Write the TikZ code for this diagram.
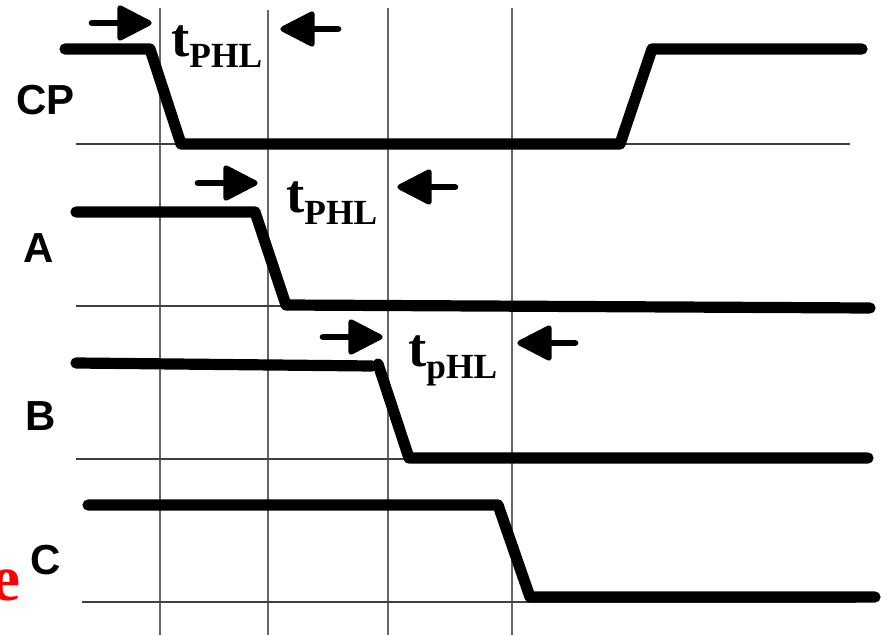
\documentclass[tikz,border=0pt]{standalone}
\usepackage{fontspec}
\setmainfont{Liberation Serif}
\setsansfont{Liberation Sans}
\newcommand{\tdelay}[1]{\bfseries\fontsize{41}{41}\selectfont t\fontsize{26.5}{26.5}\selectfont\raisebox{-9pt}{#1}}
\tikzset{
  wave/.style={line width=8.4pt,line cap=round,line join=round},
  grid line/.style={line width=0.9pt,black!60},
  base line/.style={line width=0.8pt,black!75},
  sig/.style={font=\sffamily\bfseries\fontsize{31.5}{31.5}\selectfont,anchor=base west,inner sep=0pt},
  delay/.style={anchor=base west,inner sep=0pt},
  stem/.style={line width=5pt,line cap=round},
  head/.style={fill=black,draw=black,line width=4pt,line join=round}
}
\begin{document}
\begin{tikzpicture}[x=0.75pt,y=-0.75pt]
    \useasboundingbox (0,0) rectangle (881,635);

    % Lineas verticales
    \foreach \x/\ytop in {160/8,268/10,388/8,512/8}
        \draw[grid line] (\x,\ytop) -- (\x,635);

    % Lineas de base
    \draw[base line] (76,144) -- (850,144);
    \draw[base line] (76,306) -- (870,306);
    \draw[base line] (76,459) -- (870,459);
    \draw[base line] (82,602) -- (856,602);

    % Senales
    \draw[wave] (65,49) -- (150,49) -- (181,144) -- (620,144) -- (652,49) -- (862,49);
    \draw[wave] (76,212) -- (255,212) -- (286,305) -- (870,308);
    \draw[wave] (76,363) -- (372,366);
    \draw[wave] (378,364) -- (409,458) -- (868,458);
    \draw[wave] (88,505) -- (498,505) -- (530,597) -- (875,597);

    % Flechas hacia la derecha
    \foreach \x/\y in {92/23,198/183,323/337} {
        \draw[stem] (\x,\y) -- ++(30,0);
        \draw[head] (\x+28,\y-15) -- ++(0,30) -- ++(29,-15) -- cycle;
    }
    % Flechas hacia la izquierda
    \foreach \x/\y in {338/29,455/187,575/343} {
        \draw[stem] (\x,\y) -- ++(-30,0);
        \draw[head] (\x-26,\y-15) -- ++(0,30) -- ++(-29,-15) -- cycle;
    }

    % Etiquetas
    \node[sig] (cp) at (16,114) {CP};
    \node[sig] (a) at (23,262) {A};
    \node[sig] (b) at (25,430) {B};
    \node[sig] (c) at (30,574) {C};
    \node[delay] (t1) at (171,56) {\tdelay{PHL}};
    \node[delay] (t2) at (286,212) {\tdelay{PHL}};
    \node[delay] (t3) at (408,366) {\tdelay{pHL}};
    \node[anchor=base west,inner sep=0pt,text=red,font=\bfseries\fontsize{49}{49}\selectfont] (e) at (-9,600) {e};
\end{tikzpicture}
\end{document}
